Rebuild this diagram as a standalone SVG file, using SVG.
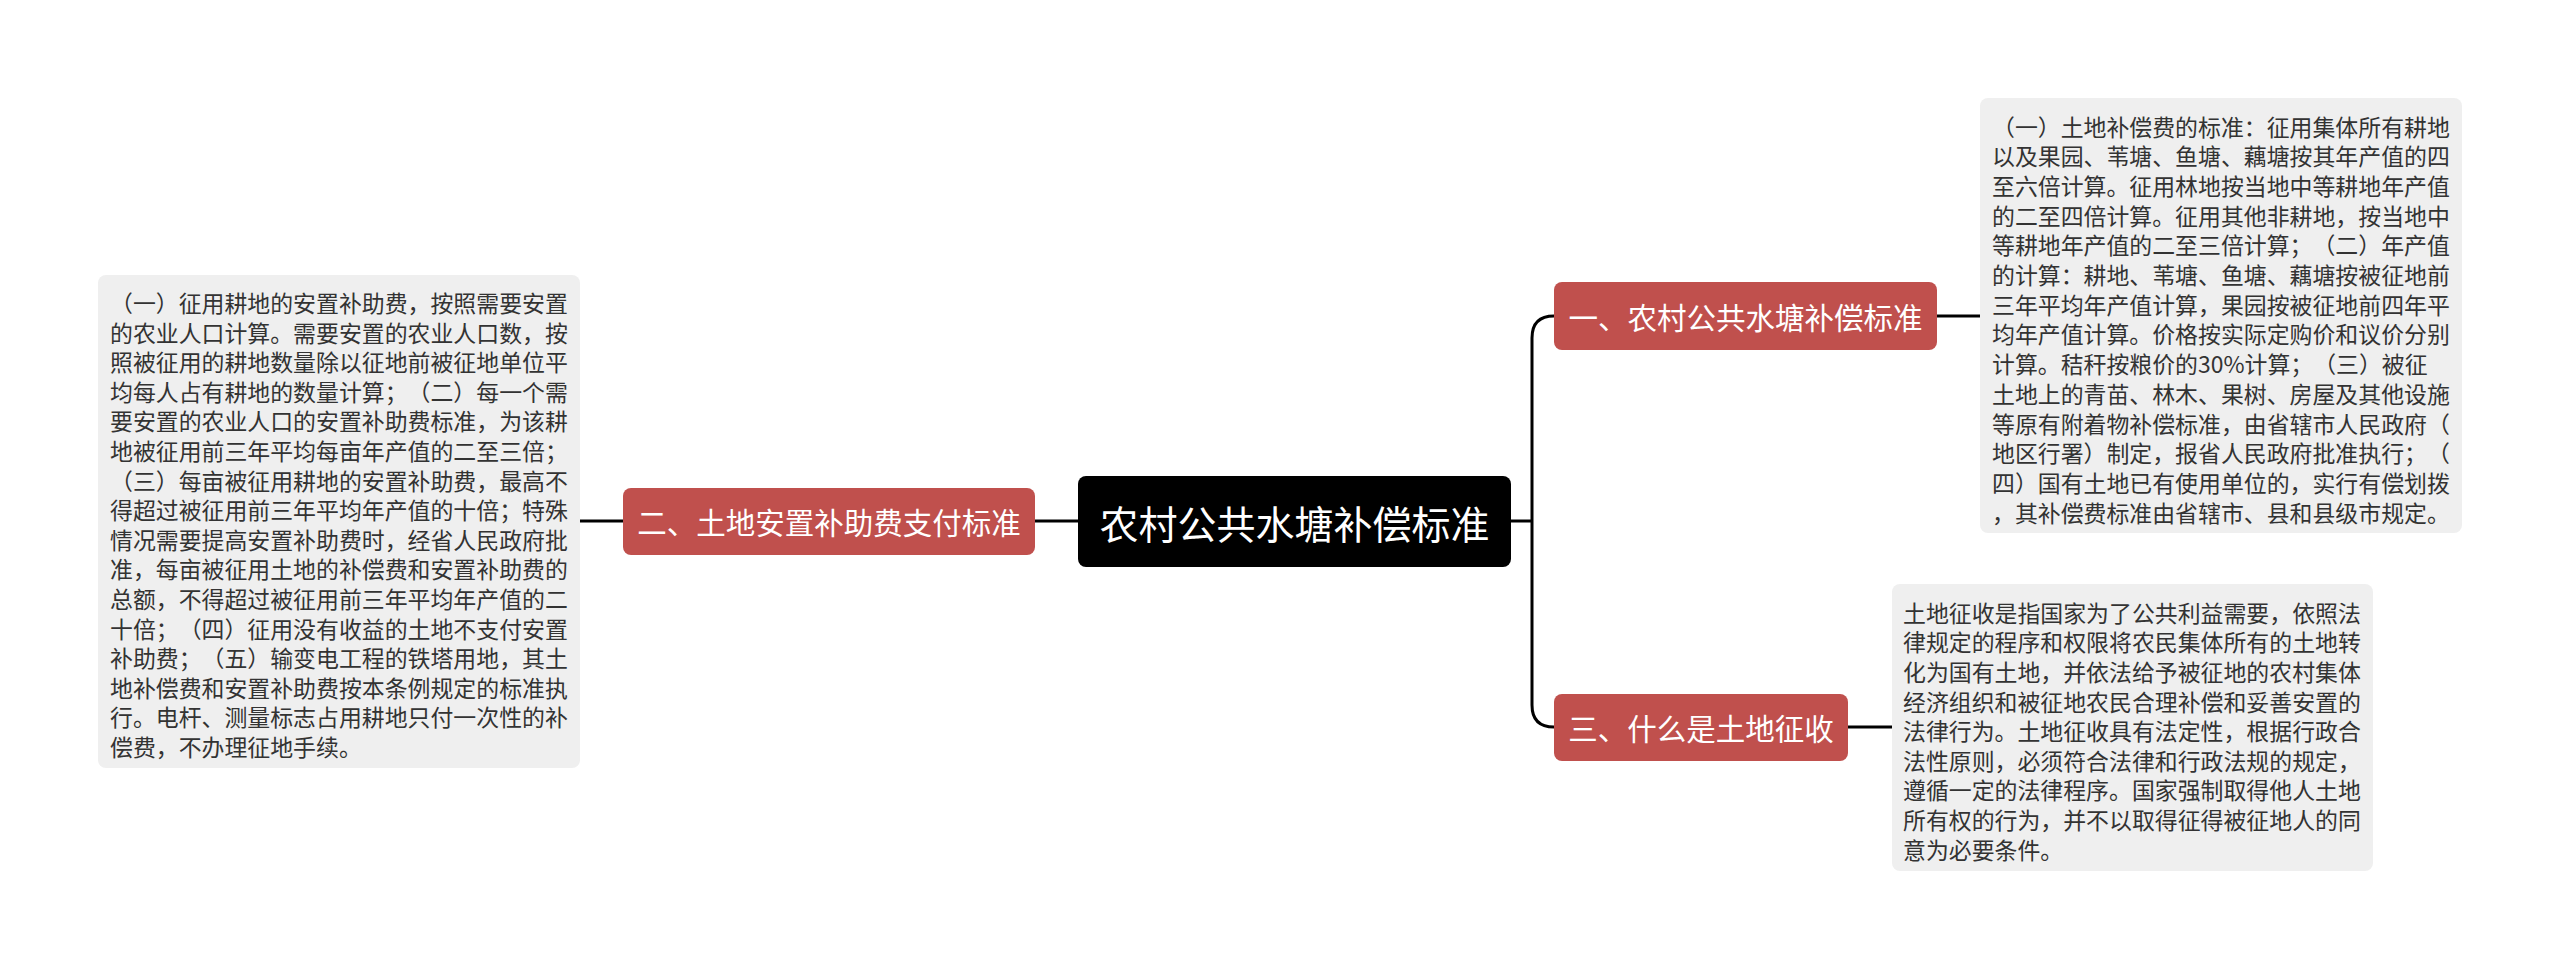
<svg xmlns="http://www.w3.org/2000/svg" width="2560" height="970" viewBox="0 0 2560 970">
<style>
text{text-spacing-trim:space-all;}
.note{fill:#efefef;}
.nt{font-family:"Noto Sans CJK SC","Noto Sans CJK JP",sans-serif;font-size:22.9px;fill:#333333;dominant-baseline:central;}
.branch{fill:#c0504d;}
.bt{font-family:"Noto Sans CJK SC","Noto Sans CJK JP",sans-serif;font-size:29.5px;fill:#ffffff;dominant-baseline:central;text-anchor:middle;}
.root{fill:#000000;}
.rt{font-family:"Noto Sans CJK SC","Noto Sans CJK JP",sans-serif;font-size:39px;fill:#ffffff;dominant-baseline:central;text-anchor:middle;}
.conn{fill:none;stroke:#000000;stroke-width:3;}
</style>
<rect width="2560" height="970" fill="#ffffff"/>
<g id="connectors">
<line class="conn" x1="580" y1="521" x2="624" y2="521"/>
<line class="conn" x1="1035" y1="521" x2="1078" y2="521"/>
<line class="conn" x1="1510" y1="521" x2="1532" y2="521"/>
<path class="conn" d="M1554,316 Q1532,316 1532,338 L1532,705 Q1532,727 1554,727"/>
<line class="conn" x1="1936" y1="316" x2="1980" y2="316"/>
<line class="conn" x1="1848" y1="727" x2="1892" y2="727"/>
</g>
<g id="root">
<rect class="root" x="1078" y="476" width="433" height="91" rx="8"/>
<text class="rt" x="1294.5" y="522">农村公共水塘补偿标准</text>
</g>
<g id="branch2">
<rect class="branch" x="623" y="488" width="412" height="67" rx="8"/>
<text class="bt" x="829" y="521">二、土地安置补助费支付标准</text>
</g>
<g id="branch1">
<rect class="branch" x="1554" y="282" width="383" height="68" rx="8"/>
<text class="bt" x="1745.5" y="316">一、农村公共水塘补偿标准</text>
</g>
<g id="branch3">
<rect class="branch" x="1554" y="694" width="294" height="67" rx="8"/>
<text class="bt" x="1701" y="727">三、什么是土地征收</text>
</g>
<g id="note2">
<rect class="note" x="98" y="275" width="482" height="493" rx="8"/>
<text class="nt" x="110">
<tspan x="110" y="302">（一）征用耕地的安置补助费，按照需要安置</tspan>
<tspan x="110" y="331.6">的农业人口计算。需要安置的农业人口数，按</tspan>
<tspan x="110" y="361.2">照被征用的耕地数量除以征地前被征地单位平</tspan>
<tspan x="110" y="390.8">均每人占有耕地的数量计算；（二）每一个需</tspan>
<tspan x="110" y="420.4">要安置的农业人口的安置补助费标准，为该耕</tspan>
<tspan x="110" y="450">地被征用前三年平均每亩年产值的二至三倍；</tspan>
<tspan x="110" y="479.6">（三）每亩被征用耕地的安置补助费，最高不</tspan>
<tspan x="110" y="509.2">得超过被征用前三年平均年产值的十倍；特殊</tspan>
<tspan x="110" y="538.8">情况需要提高安置补助费时，经省人民政府批</tspan>
<tspan x="110" y="568.4">准，每亩被征用土地的补偿费和安置补助费的</tspan>
<tspan x="110" y="598">总额，不得超过被征用前三年平均年产值的二</tspan>
<tspan x="110" y="627.6">十倍；（四）征用没有收益的土地不支付安置</tspan>
<tspan x="110" y="657.2">补助费；（五）输变电工程的铁塔用地，其土</tspan>
<tspan x="110" y="686.8">地补偿费和安置补助费按本条例规定的标准执</tspan>
<tspan x="110" y="716.4">行。电杆、测量标志占用耕地只付一次性的补</tspan>
<tspan x="110" y="746">偿费，不办理征地手续。</tspan>
</text>
</g>
<g id="note1">
<rect class="note" x="1980" y="98" width="482" height="435" rx="8"/>
<text class="nt" x="1992">
<tspan x="1992" y="125.5">（一）土地补偿费的标准：征用集体所有耕地</tspan>
<tspan x="1992" y="155.2">以及果园、苇塘、鱼塘、藕塘按其年产值的四</tspan>
<tspan x="1992" y="184.9">至六倍计算。征用林地按当地中等耕地年产值</tspan>
<tspan x="1992" y="214.6">的二至四倍计算。征用其他非耕地，按当地中</tspan>
<tspan x="1992" y="244.3">等耕地年产值的二至三倍计算；（二）年产值</tspan>
<tspan x="1992" y="274">的计算：耕地、苇塘、鱼塘、藕塘按被征地前</tspan>
<tspan x="1992" y="303.7">三年平均年产值计算，果园按被征地前四年平</tspan>
<tspan x="1992" y="333.4">均年产值计算。价格按实际定购价和议价分别</tspan>
<tspan x="1992" y="363.1">计算。秸秆按粮价的30%计算；（三）被征</tspan>
<tspan x="1992" y="392.8">土地上的青苗、林木、果树、房屋及其他设施</tspan>
<tspan x="1992" y="422.5">等原有附着物补偿标准，由省辖市人民政府（</tspan>
<tspan x="1992" y="452.2">地区行署）制定，报省人民政府批准执行；（</tspan>
<tspan x="1992" y="481.9">四）国有土地已有使用单位的，实行有偿划拨</tspan>
<tspan x="1992" y="511.6">，其补偿费标准由省辖市、县和县级市规定。</tspan>
</text>
</g>
<g id="note3">
<rect class="note" x="1892" y="584" width="481" height="287" rx="8"/>
<text class="nt" x="1903">
<tspan x="1903" y="611.7">土地征收是指国家为了公共利益需要，依照法</tspan>
<tspan x="1903" y="641.3">律规定的程序和权限将农民集体所有的土地转</tspan>
<tspan x="1903" y="670.9">化为国有土地，并依法给予被征地的农村集体</tspan>
<tspan x="1903" y="700.5">经济组织和被征地农民合理补偿和妥善安置的</tspan>
<tspan x="1903" y="730.1">法律行为。土地征收具有法定性，根据行政合</tspan>
<tspan x="1903" y="759.7">法性原则，必须符合法律和行政法规的规定，</tspan>
<tspan x="1903" y="789.3">遵循一定的法律程序。国家强制取得他人土地</tspan>
<tspan x="1903" y="818.9">所有权的行为，并不以取得征得被征地人的同</tspan>
<tspan x="1903" y="848.5">意为必要条件。</tspan>
</text>
</g>
</svg>
